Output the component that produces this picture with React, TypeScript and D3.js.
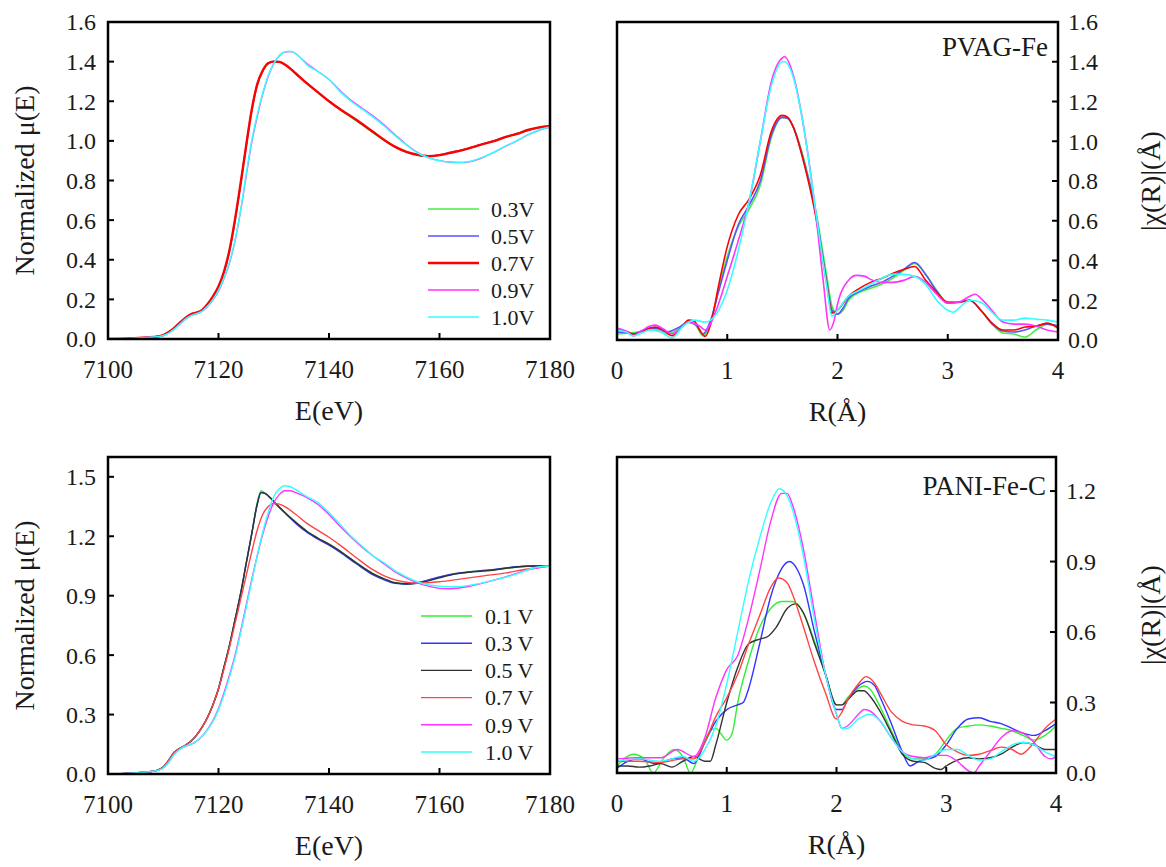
import React from "react";
import * as d3 from "d3";

type Pt = [number, number];

// ---------- Top-left: XANES, PVAG-Fe ----------
const tlSeriesNames = ["0.3V", "0.5V", "0.7V", "0.9V", "1.0V"];
const tlColors = ["#44ee44", "#5555ff", "#ff0000", "#ff33ff", "#33ffff"];
const tlWidths = [1.5, 1.5, 2.4, 1.3, 1.5];

const tl03: Pt[] = [[7100,0],[7104,0.003],[7107,0.008],[7109,0.013],[7110,0.02],[7111,0.034],[7112,0.053],[7113,0.078],[7114,0.1],[7115,0.12],[7116,0.127],[7117,0.14],[7118,0.172],[7119,0.212],[7120,0.262],[7121,0.335],[7122,0.445],[7123,0.6],[7124,0.78],[7125,0.97],[7126,1.15],[7127,1.28],[7128,1.35],[7129,1.39],[7130,1.4],[7131,1.398],[7132,1.385],[7133,1.362],[7134,1.338],[7136,1.29],[7138,1.245],[7140,1.2],[7142,1.158],[7145,1.1],[7148,1.04],[7150,1.002],[7152,0.968],[7154,0.943],[7156,0.928],[7158,0.92],[7160,0.927],[7162,0.94],[7164,0.953],[7166,0.968],[7168,0.986],[7170,1.0],[7172,1.02],[7174,1.037],[7176,1.055],[7178,1.068],[7180,1.077]];
const tl05: Pt[] = [[7100,0],[7104,0.003],[7107,0.008],[7109,0.013],[7110,0.02],[7111,0.035],[7112,0.055],[7113,0.08],[7114,0.104],[7115,0.123],[7116,0.13],[7117,0.143],[7118,0.174],[7119,0.214],[7120,0.264],[7121,0.338],[7122,0.448],[7123,0.602],[7124,0.782],[7125,0.972],[7126,1.152],[7127,1.282],[7128,1.352],[7129,1.393],[7130,1.402],[7131,1.4],[7132,1.386],[7133,1.364],[7134,1.34],[7136,1.292],[7138,1.246],[7140,1.2],[7142,1.16],[7145,1.104],[7148,1.044],[7150,1.004],[7152,0.97],[7154,0.945],[7156,0.93],[7158,0.922],[7160,0.93],[7162,0.942],[7164,0.954],[7166,0.968],[7168,0.986],[7170,1.002],[7172,1.02],[7174,1.036],[7176,1.054],[7178,1.066],[7180,1.074]];
const tl07: Pt[] = [[7100,0],[7104,0.003],[7107,0.008],[7109,0.013],[7110,0.02],[7111,0.035],[7112,0.056],[7113,0.082],[7114,0.106],[7115,0.125],[7116,0.133],[7117,0.145],[7118,0.175],[7119,0.215],[7120,0.265],[7121,0.34],[7122,0.45],[7123,0.605],[7124,0.785],[7125,0.975],[7126,1.155],[7127,1.285],[7128,1.355],[7129,1.392],[7130,1.4],[7131,1.399],[7132,1.385],[7133,1.365],[7134,1.34],[7136,1.29],[7138,1.245],[7140,1.2],[7142,1.16],[7145,1.105],[7148,1.045],[7150,1.005],[7152,0.97],[7154,0.945],[7156,0.93],[7158,0.923],[7160,0.928],[7162,0.94],[7164,0.952],[7166,0.968],[7168,0.985],[7170,1.0],[7172,1.02],[7174,1.035],[7176,1.055],[7178,1.068],[7180,1.075]];
const tl09: Pt[] = [[7100,0],[7104,0.003],[7107,0.008],[7109,0.012],[7110,0.018],[7111,0.03],[7112,0.05],[7113,0.075],[7114,0.1],[7115,0.118],[7116,0.128],[7117,0.14],[7118,0.163],[7119,0.197],[7120,0.24],[7121,0.305],[7122,0.385],[7123,0.495],[7124,0.645],[7125,0.82],[7126,0.99],[7127,1.12],[7128,1.235],[7129,1.325],[7130,1.39],[7131,1.43],[7132,1.448],[7133,1.45],[7134,1.44],[7135,1.415],[7136,1.39],[7137,1.37],[7138,1.35],[7140,1.31],[7142,1.255],[7144,1.205],[7146,1.165],[7148,1.125],[7150,1.08],[7152,1.03],[7154,0.982],[7156,0.942],[7158,0.915],[7160,0.9],[7162,0.892],[7164,0.89],[7166,0.898],[7168,0.918],[7170,0.944],[7172,0.973],[7174,1.0],[7176,1.03],[7178,1.053],[7180,1.068]];
const tl10: Pt[] = [[7100,0],[7104,0.003],[7107,0.008],[7109,0.012],[7110,0.018],[7111,0.03],[7112,0.05],[7113,0.075],[7114,0.1],[7115,0.118],[7116,0.128],[7117,0.14],[7118,0.165],[7119,0.2],[7120,0.245],[7121,0.31],[7122,0.39],[7123,0.5],[7124,0.65],[7125,0.83],[7126,1.0],[7127,1.13],[7128,1.24],[7129,1.33],[7130,1.39],[7131,1.43],[7132,1.45],[7133,1.452],[7134,1.44],[7135,1.415],[7136,1.385],[7138,1.35],[7140,1.31],[7142,1.25],[7144,1.2],[7146,1.16],[7148,1.12],[7150,1.075],[7152,1.025],[7154,0.98],[7156,0.94],[7158,0.915],[7160,0.9],[7162,0.893],[7164,0.892],[7166,0.9],[7168,0.92],[7170,0.945],[7172,0.975],[7174,1.0],[7176,1.03],[7178,1.055],[7180,1.07]];

// ---------- Top-right: FT-EXAFS, PVAG-Fe ----------
const tr03: Pt[] = [[0,0.03],[0.1,0.035],[0.2,0.04],[0.3,0.05],[0.38,0.045],[0.45,0.03],[0.55,0.05],[0.65,0.09],[0.72,0.07],[0.78,0.02],[0.85,0.09],[0.92,0.25],[1.0,0.42],[1.1,0.57],[1.2,0.66],[1.3,0.78],[1.4,1.02],[1.5,1.12],[1.55,1.115],[1.6,1.07],[1.7,0.9],[1.8,0.66],[1.9,0.33],[1.95,0.17],[2.0,0.13],[2.05,0.15],[2.1,0.2],[2.2,0.24],[2.3,0.26],[2.4,0.28],[2.5,0.31],[2.6,0.35],[2.7,0.385],[2.8,0.33],[2.9,0.25],[3.0,0.19],[3.1,0.19],[3.2,0.2],[3.3,0.15],[3.4,0.08],[3.5,0.035],[3.6,0.03],[3.7,0.015],[3.8,0.05],[3.9,0.08],[4.0,0.07]];
const tr05: Pt[] = [[0,0.04],[0.1,0.035],[0.15,0.03],[0.22,0.045],[0.3,0.06],[0.38,0.055],[0.45,0.04],[0.55,0.06],[0.65,0.09],[0.72,0.075],[0.78,0.03],[0.85,0.1],[0.92,0.24],[1.0,0.4],[1.1,0.58],[1.2,0.68],[1.3,0.8],[1.4,1.03],[1.5,1.12],[1.55,1.115],[1.6,1.07],[1.7,0.89],[1.8,0.65],[1.9,0.3],[1.95,0.15],[2.0,0.13],[2.05,0.16],[2.1,0.21],[2.2,0.245],[2.3,0.27],[2.4,0.29],[2.5,0.32],[2.6,0.355],[2.7,0.39],[2.8,0.33],[2.9,0.245],[3.0,0.185],[3.1,0.19],[3.2,0.2],[3.3,0.15],[3.4,0.085],[3.5,0.045],[3.6,0.04],[3.7,0.05],[3.8,0.07],[3.9,0.08],[4.0,0.07]];
const tr07: Pt[] = [[0,0.05],[0.1,0.04],[0.15,0.03],[0.22,0.04],[0.3,0.06],[0.35,0.065],[0.42,0.05],[0.5,0.022],[0.58,0.06],[0.65,0.1],[0.7,0.095],[0.75,0.05],[0.8,0.018],[0.85,0.08],[0.92,0.27],[1.0,0.47],[1.1,0.63],[1.2,0.71],[1.3,0.83],[1.4,1.05],[1.5,1.13],[1.55,1.12],[1.6,1.07],[1.7,0.88],[1.8,0.63],[1.9,0.29],[1.95,0.135],[2.0,0.15],[2.1,0.22],[2.2,0.26],[2.3,0.29],[2.4,0.31],[2.5,0.335],[2.6,0.355],[2.7,0.37],[2.8,0.3],[2.9,0.24],[3.0,0.19],[3.1,0.19],[3.2,0.2],[3.3,0.15],[3.4,0.085],[3.5,0.05],[3.6,0.05],[3.7,0.065],[3.8,0.07],[3.9,0.085],[4.0,0.06]];
const tr09: Pt[] = [[0,0.06],[0.1,0.04],[0.15,0.02],[0.22,0.045],[0.3,0.07],[0.35,0.075],[0.42,0.055],[0.5,0.03],[0.58,0.06],[0.65,0.09],[0.75,0.07],[0.8,0.05],[0.9,0.15],[1.0,0.32],[1.1,0.5],[1.2,0.7],[1.3,1.0],[1.4,1.3],[1.5,1.42],[1.52,1.425],[1.6,1.33],[1.7,1.05],[1.8,0.65],[1.87,0.3],[1.93,0.05],[1.97,0.1],[2.0,0.18],[2.1,0.3],[2.17,0.325],[2.25,0.32],[2.3,0.305],[2.4,0.29],[2.5,0.29],[2.6,0.3],[2.7,0.32],[2.8,0.29],[2.9,0.23],[3.0,0.185],[3.1,0.19],[3.2,0.22],[3.25,0.23],[3.3,0.21],[3.4,0.15],[3.5,0.09],[3.6,0.08],[3.7,0.08],[3.8,0.07],[3.9,0.05],[4.0,0.04]];
const tr10: Pt[] = [[0,0.05],[0.08,0.04],[0.15,0.02],[0.22,0.035],[0.3,0.05],[0.4,0.04],[0.5,0.01],[0.6,0.07],[0.7,0.1],[0.8,0.09],[0.9,0.13],[1.0,0.25],[1.1,0.45],[1.2,0.7],[1.3,1.0],[1.4,1.28],[1.5,1.4],[1.52,1.4],[1.6,1.32],[1.7,1.05],[1.8,0.66],[1.9,0.28],[1.95,0.12],[2.0,0.15],[2.1,0.22],[2.2,0.25],[2.3,0.28],[2.4,0.31],[2.5,0.33],[2.6,0.33],[2.7,0.32],[2.8,0.28],[2.9,0.2],[3.0,0.15],[3.05,0.14],[3.1,0.16],[3.2,0.2],[3.3,0.19],[3.4,0.14],[3.5,0.1],[3.6,0.1],[3.7,0.11],[3.8,0.105],[3.9,0.1],[4.0,0.09]];

// ---------- Bottom-left: XANES, PANI-Fe-C ----------
const blSeriesNames = ["0.1 V", "0.3 V", "0.5 V", "0.7 V", "0.9 V", "1.0 V"];
const blColors = ["#33ee33", "#3333ff", "#333333", "#ff4444", "#ff33ff", "#33ffff"];

const bl01: Pt[] = [[7100,0],[7104,0.004],[7107,0.01],[7109,0.02],[7110,0.035],[7111,0.07],[7112,0.11],[7113,0.13],[7114,0.145],[7115,0.165],[7116,0.195],[7117,0.235],[7118,0.285],[7119,0.35],[7120,0.43],[7121,0.54],[7122,0.65],[7123,0.78],[7124,0.91],[7125,1.06],[7126,1.21],[7127,1.37],[7127.7,1.43],[7128.5,1.415],[7129.5,1.39],[7130.5,1.36],[7132,1.32],[7134,1.27],[7136,1.225],[7138,1.19],[7140,1.16],[7142,1.125],[7145,1.065],[7148,1.01],[7150,0.985],[7152,0.965],[7154,0.96],[7156,0.965],[7158,0.978],[7160,0.993],[7163,1.012],[7166,1.022],[7170,1.032],[7174,1.045],[7177,1.05],[7180,1.05]];
const bl03: Pt[] = [[7100,0],[7104,0.004],[7107,0.01],[7109,0.02],[7110,0.035],[7111,0.07],[7112,0.11],[7113,0.13],[7114,0.145],[7115,0.165],[7116,0.195],[7117,0.235],[7118,0.285],[7119,0.35],[7120,0.43],[7121,0.54],[7122,0.65],[7123,0.78],[7124,0.91],[7125,1.06],[7126,1.21],[7127,1.36],[7127.7,1.42],[7128.5,1.415],[7129.5,1.39],[7130.5,1.36],[7132,1.318],[7134,1.265],[7136,1.22],[7138,1.185],[7140,1.155],[7142,1.12],[7145,1.06],[7148,1.005],[7150,0.98],[7152,0.962],[7154,0.958],[7156,0.965],[7158,0.98],[7160,0.995],[7163,1.012],[7166,1.022],[7170,1.033],[7174,1.046],[7177,1.05],[7180,1.05]];
const bl05: Pt[] = [[7100,0],[7104,0.004],[7107,0.01],[7109,0.02],[7110,0.035],[7111,0.07],[7112,0.11],[7113,0.13],[7114,0.145],[7115,0.165],[7116,0.195],[7117,0.235],[7118,0.285],[7119,0.35],[7120,0.43],[7121,0.54],[7122,0.65],[7123,0.78],[7124,0.91],[7125,1.06],[7126,1.21],[7127,1.36],[7127.7,1.42],[7128.5,1.415],[7129.5,1.39],[7130.5,1.36],[7132,1.32],[7134,1.27],[7136,1.225],[7138,1.19],[7140,1.16],[7142,1.125],[7145,1.065],[7148,1.01],[7150,0.985],[7152,0.965],[7154,0.96],[7156,0.963],[7158,0.975],[7160,0.99],[7163,1.01],[7166,1.02],[7170,1.03],[7174,1.045],[7177,1.05],[7180,1.05]];
const bl07: Pt[] = [[7100,0],[7104,0.004],[7107,0.01],[7109,0.02],[7110,0.035],[7111,0.07],[7112,0.11],[7113,0.13],[7114,0.145],[7115,0.165],[7116,0.195],[7117,0.235],[7118,0.285],[7119,0.35],[7120,0.43],[7121,0.53],[7122,0.64],[7123,0.76],[7124,0.88],[7125,1.0],[7126,1.12],[7127,1.23],[7128,1.31],[7129,1.35],[7130,1.365],[7131,1.362],[7132,1.35],[7134,1.31],[7136,1.265],[7138,1.23],[7140,1.195],[7142,1.155],[7145,1.09],[7148,1.03],[7150,1.0],[7152,0.98],[7154,0.968],[7156,0.963],[7158,0.965],[7160,0.97],[7164,0.985],[7168,1.0],[7172,1.015],[7176,1.035],[7180,1.05]];
const bl09: Pt[] = [[7100,0],[7104,0.004],[7107,0.01],[7109,0.018],[7110,0.03],[7111,0.06],[7112,0.1],[7113,0.125],[7114,0.14],[7115,0.15],[7116,0.165],[7117,0.19],[7118,0.225],[7119,0.27],[7120,0.33],[7121,0.41],[7122,0.5],[7123,0.6],[7124,0.72],[7125,0.85],[7126,0.98],[7127,1.1],[7128,1.21],[7129,1.3],[7130,1.37],[7131,1.41],[7132,1.43],[7133,1.43],[7134,1.42],[7136,1.395],[7138,1.36],[7140,1.31],[7142,1.25],[7144,1.195],[7146,1.145],[7148,1.1],[7150,1.06],[7152,1.02],[7154,0.99],[7156,0.965],[7158,0.948],[7160,0.937],[7162,0.935],[7165,0.945],[7168,0.965],[7172,0.995],[7176,1.03],[7180,1.05]];
const bl10: Pt[] = [[7100,0],[7104,0.004],[7107,0.01],[7109,0.018],[7110,0.03],[7111,0.06],[7112,0.1],[7113,0.125],[7114,0.14],[7115,0.15],[7116,0.165],[7117,0.19],[7118,0.222],[7119,0.265],[7120,0.325],[7121,0.4],[7122,0.49],[7123,0.59],[7124,0.71],[7125,0.84],[7126,0.97],[7127,1.1],[7128,1.22],[7129,1.32],[7130,1.4],[7131,1.44],[7132,1.455],[7133,1.45],[7134,1.435],[7136,1.4],[7138,1.37],[7140,1.32],[7142,1.26],[7144,1.2],[7146,1.15],[7148,1.1],[7150,1.065],[7152,1.025],[7154,0.995],[7156,0.97],[7158,0.955],[7160,0.948],[7163,0.945],[7166,0.955],[7170,0.98],[7174,1.01],[7177,1.04],[7180,1.05]];

// ---------- Bottom-right: FT-EXAFS, PANI-Fe-C ----------
const br01: Pt[] = [[0,0.03],[0.15,0.08],[0.25,0.06],[0.33,0.0],[0.42,0.06],[0.52,0.1],[0.6,0.07],[0.67,0.0],[0.75,0.08],[0.85,0.18],[0.9,0.19],[1.0,0.14],[1.05,0.17],[1.1,0.3],[1.2,0.48],[1.3,0.62],[1.4,0.7],[1.5,0.73],[1.6,0.73],[1.7,0.68],[1.8,0.56],[1.9,0.42],[2.0,0.29],[2.05,0.29],[2.1,0.32],[2.2,0.36],[2.25,0.37],[2.3,0.36],[2.4,0.28],[2.5,0.18],[2.6,0.09],[2.7,0.06],[2.8,0.06],[2.9,0.08],[3.0,0.14],[3.1,0.19],[3.2,0.2],[3.3,0.205],[3.4,0.2],[3.5,0.19],[3.6,0.18],[3.7,0.16],[3.8,0.14],[3.9,0.16],[4.0,0.2]];
const br03: Pt[] = [[0,0.02],[0.1,0.05],[0.2,0.06],[0.35,0.04],[0.5,0.06],[0.6,0.065],[0.7,0.04],[0.8,0.13],[0.9,0.22],[1.0,0.27],[1.1,0.29],[1.15,0.3],[1.2,0.36],[1.3,0.55],[1.4,0.75],[1.5,0.87],[1.57,0.9],[1.65,0.86],[1.7,0.8],[1.8,0.6],[1.9,0.42],[2.0,0.27],[2.05,0.27],[2.1,0.31],[2.2,0.37],[2.28,0.39],[2.35,0.37],[2.4,0.32],[2.5,0.21],[2.6,0.09],[2.67,0.03],[2.75,0.05],[2.9,0.07],[3.0,0.12],[3.1,0.19],[3.2,0.23],[3.3,0.235],[3.4,0.22],[3.5,0.21],[3.6,0.19],[3.7,0.17],[3.8,0.16],[3.9,0.18],[4.0,0.21]];
const br05: Pt[] = [[0,0.03],[0.1,0.03],[0.2,0.025],[0.3,0.03],[0.4,0.04],[0.5,0.025],[0.6,0.05],[0.7,0.07],[0.8,0.05],[0.85,0.05],[0.9,0.12],[1.0,0.3],[1.1,0.45],[1.2,0.55],[1.3,0.57],[1.37,0.58],[1.45,0.62],[1.55,0.7],[1.63,0.72],[1.7,0.68],[1.8,0.55],[1.9,0.42],[2.0,0.29],[2.05,0.29],[2.1,0.31],[2.2,0.35],[2.25,0.35],[2.3,0.33],[2.4,0.26],[2.5,0.17],[2.6,0.08],[2.7,0.05],[2.8,0.045],[2.9,0.02],[2.95,0.015],[3.0,0.03],[3.1,0.055],[3.2,0.065],[3.3,0.06],[3.4,0.065],[3.5,0.08],[3.6,0.11],[3.7,0.13],[3.8,0.12],[3.9,0.1],[4.0,0.1]];
const br07: Pt[] = [[0,0.05],[0.2,0.05],[0.4,0.045],[0.6,0.06],[0.7,0.06],[0.8,0.13],[0.9,0.24],[1.0,0.32],[1.1,0.42],[1.2,0.55],[1.3,0.67],[1.4,0.79],[1.47,0.83],[1.55,0.81],[1.6,0.76],[1.7,0.62],[1.8,0.47],[1.9,0.34],[2.0,0.23],[2.05,0.26],[2.1,0.31],[2.2,0.38],[2.27,0.41],[2.35,0.38],[2.4,0.34],[2.5,0.26],[2.6,0.22],[2.7,0.205],[2.8,0.2],[2.9,0.18],[3.0,0.12],[3.1,0.09],[3.2,0.075],[3.3,0.08],[3.4,0.095],[3.5,0.11],[3.6,0.1],[3.68,0.08],[3.8,0.13],[3.9,0.19],[4.0,0.23]];
const br09: Pt[] = [[0,0.06],[0.2,0.065],[0.4,0.065],[0.55,0.1],[0.7,0.07],[0.8,0.15],[0.9,0.32],[1.0,0.44],[1.1,0.5],[1.2,0.66],[1.3,0.86],[1.4,1.07],[1.5,1.19],[1.55,1.19],[1.6,1.14],[1.7,0.95],[1.8,0.68],[1.9,0.42],[2.0,0.25],[2.05,0.19],[2.1,0.2],[2.2,0.25],[2.25,0.27],[2.3,0.265],[2.4,0.22],[2.5,0.15],[2.6,0.09],[2.7,0.07],[2.8,0.065],[2.9,0.075],[3.0,0.075],[3.1,0.05],[3.2,0.01],[3.25,0.0],[3.3,0.03],[3.4,0.09],[3.5,0.15],[3.6,0.18],[3.7,0.17],[3.8,0.13],[3.9,0.07],[3.95,0.06],[4.0,0.07]];
const br10: Pt[] = [[0,0.05],[0.2,0.06],[0.4,0.05],[0.6,0.07],[0.7,0.05],[0.8,0.1],[0.9,0.2],[1.0,0.38],[1.1,0.6],[1.2,0.82],[1.3,1.0],[1.4,1.15],[1.48,1.21],[1.55,1.18],[1.6,1.12],[1.7,0.92],[1.8,0.65],[1.9,0.42],[2.0,0.25],[2.05,0.19],[2.1,0.19],[2.2,0.23],[2.3,0.25],[2.4,0.22],[2.5,0.15],[2.6,0.09],[2.7,0.06],[2.8,0.055],[2.9,0.08],[3.0,0.1],[3.1,0.1],[3.2,0.075],[3.3,0.055],[3.4,0.06],[3.5,0.09],[3.6,0.12],[3.7,0.13],[3.8,0.12],[3.9,0.09],[4.0,0.07]];

// ---------- Axis ticks ----------
const eTicks = [7100, 7120, 7140, 7160, 7180];
const rTicks = [0, 1, 2, 3, 4];
const tlYTicks = [0, 0.2, 0.4, 0.6, 0.8, 1.0, 1.2, 1.4, 1.6];
const trYTicks = [0, 0.2, 0.4, 0.6, 0.8, 1.0, 1.2, 1.4, 1.6];
const blYTicks = [0, 0.3, 0.6, 0.9, 1.2, 1.5];
const brYTicks = [0, 0.3, 0.6, 0.9, 1.2];

const FONT = "'Liberation Serif', 'Times New Roman', serif";
const TXT = "#1a1a1a";

interface Series { name: string; color: string; width: number; data: Pt[] }
interface PanelCfg {
  id: string;
  left: number; top: number; width: number; height: number;
  xDomain: [number, number]; yDomain: [number, number];
  xTicks: number[]; yTicks: number[]; yFmt: (v: number) => string; xFmt: (v: number) => string;
  ySide: "left" | "right";
  xTitle: string; yTitle: string; yTitleX: number;
  series: Series[];
  legend?: { x1: number; x2: number; tx: number; y0: number; dy: number };
  label?: string; labelY?: number;
}

function Panel({ c }: { c: PanelCfg }) {
  const x = d3.scaleLinear().domain(c.xDomain).range([c.left, c.left + c.width]);
  const y = d3.scaleLinear().domain(c.yDomain).range([c.top + c.height, c.top]);
  const line = d3.line<Pt>().x(d => x(d[0])).y(d => y(d[1])).curve(d3.curveMonotoneX);
  const bottom = c.top + c.height;
  const right = c.left + c.width;
  const tickLen = 6;
  const yAxisX = c.ySide === "left" ? c.left : right;
  const inward = c.ySide === "left" ? 1 : -1;
  return (
    <g>
      <defs>
        <clipPath id={`clip-${c.id}`}>
          <rect x={c.left} y={c.top} width={c.width} height={c.height} />
        </clipPath>
      </defs>
      <g clipPath={`url(#clip-${c.id})`}>
        {c.series.map(s => (
          <path key={s.name} d={line(s.data) || ""} fill="none" stroke={s.color} strokeWidth={s.width} strokeLinejoin="round" />
        ))}
      </g>
      {c.xTicks.map(t => (
        <g key={"x" + t}>
          <line x1={x(t)} x2={x(t)} y1={bottom} y2={bottom - tickLen} stroke="#000" strokeWidth={2} />
          <text x={x(t)} y={bottom + 39} textAnchor="middle" fontFamily={FONT} fontSize={25} fill={TXT}>{c.xFmt(t)}</text>
        </g>
      ))}
      {c.yTicks.map(t => (
        <g key={"y" + t}>
          <line x1={yAxisX} x2={yAxisX + inward * tickLen} y1={y(t)} y2={y(t)} stroke="#000" strokeWidth={2} />
          <text x={c.ySide === "left" ? c.left - 12 : right + 10} y={y(t)} dy="0.35em"
            textAnchor={c.ySide === "left" ? "end" : "start"} fontFamily={FONT} fontSize={24} fill={TXT}>{c.yFmt(t)}</text>
        </g>
      ))}
      <rect x={c.left} y={c.top} width={c.width} height={c.height} fill="none" stroke="#000" strokeWidth={2.5} />
      <text x={c.left + c.width / 2} y={bottom + 81} textAnchor="middle" fontFamily={FONT} fontSize={28} fill={TXT}>{c.xTitle}</text>
      <text transform={`translate(${c.yTitleX},${c.top + c.height / 2}) rotate(-90)`} textAnchor="middle" dy="0.35em"
        fontFamily={FONT} fontSize={28} fill={TXT}>{c.yTitle}</text>
      {c.legend && c.series.map((s, i) => (
        <g key={"lg" + s.name}>
          <line x1={c.legend!.x1} x2={c.legend!.x2} y1={c.legend!.y0 + i * c.legend!.dy} y2={c.legend!.y0 + i * c.legend!.dy}
            stroke={s.color} strokeWidth={s.width} />
          <text x={c.legend!.tx} y={c.legend!.y0 + i * c.legend!.dy} dy="0.35em" fontFamily={FONT} fontSize={22} fill={TXT}>{s.name}</text>
        </g>
      ))}
      {c.label && (
        <text x={right - 10} y={c.labelY} textAnchor="end" fontFamily={FONT} fontSize={27} fill={TXT}>{c.label}</text>
      )}
    </g>
  );
}

const f1 = d3.format(".1f");
const fInt = d3.format("d");

export default function App() {
  const tlData = [tl03, tl05, tl07, tl09, tl10];
  const trData = [tr03, tr05, tr07, tr09, tr10];
  const blData = [bl01, bl03, bl05, bl07, bl09, bl10];
  const brData = [br01, br03, br05, br07, br09, br10];
  const tlSeries: Series[] = tlSeriesNames.map((n, i) => ({ name: n, color: tlColors[i], width: tlWidths[i], data: tlData[i] }));
  const trSeries: Series[] = tlSeriesNames.map((n, i) => ({ name: n, color: tlColors[i], width: 1.6, data: trData[i] }));
  const blSeries: Series[] = blSeriesNames.map((n, i) => ({ name: n, color: blColors[i], width: 1.4, data: blData[i] }));
  const brSeries: Series[] = blSeriesNames.map((n, i) => ({ name: n, color: blColors[i], width: 1.4, data: brData[i] }));

  const panels: PanelCfg[] = [
    { id: "tl", left: 108, top: 22, width: 442, height: 317, xDomain: [7100, 7180], yDomain: [0, 1.6],
      xTicks: eTicks, yTicks: tlYTicks, yFmt: f1, xFmt: fInt, ySide: "left", xTitle: "E(eV)", yTitle: "Normalized μ(E)", yTitleX: 24,
      series: tlSeries, legend: { x1: 428, x2: 479, tx: 491, y0: 209, dy: 27 } },
    { id: "tr", left: 617, top: 22, width: 441, height: 318, xDomain: [0, 4], yDomain: [0, 1.6],
      xTicks: rTicks, yTicks: trYTicks, yFmt: f1, xFmt: fInt, ySide: "right", xTitle: "R(Å)", yTitle: "|χ(R)|(Å)", yTitleX: 1150,
      series: trSeries, label: "PVAG-Fe", labelY: 56 },
    { id: "bl", left: 108, top: 457, width: 442, height: 317, xDomain: [7100, 7180], yDomain: [0, 1.6],
      xTicks: eTicks, yTicks: blYTicks, yFmt: f1, xFmt: fInt, ySide: "left", xTitle: "E(eV)", yTitle: "Normalized μ(E)", yTitleX: 24,
      series: blSeries, legend: { x1: 421, x2: 472, tx: 485, y0: 616, dy: 27.2 } },
    { id: "br", left: 617, top: 457, width: 439, height: 316, xDomain: [0, 4], yDomain: [0, 1.345],
      xTicks: rTicks, yTicks: brYTicks, yFmt: f1, xFmt: fInt, ySide: "right", xTitle: "R(Å)", yTitle: "|χ(R)|(Å)", yTitleX: 1150,
      series: brSeries, label: "PANI-Fe-C", labelY: 495 },
  ];

  return (
    <svg width={1166} height={867} style={{ position: "absolute", left: 0, top: 0, background: "#fff" }}>
      <rect width={1166} height={867} fill="#fff" />
      {panels.map(p => <Panel key={p.id} c={p} />)}
    </svg>
  );
}
